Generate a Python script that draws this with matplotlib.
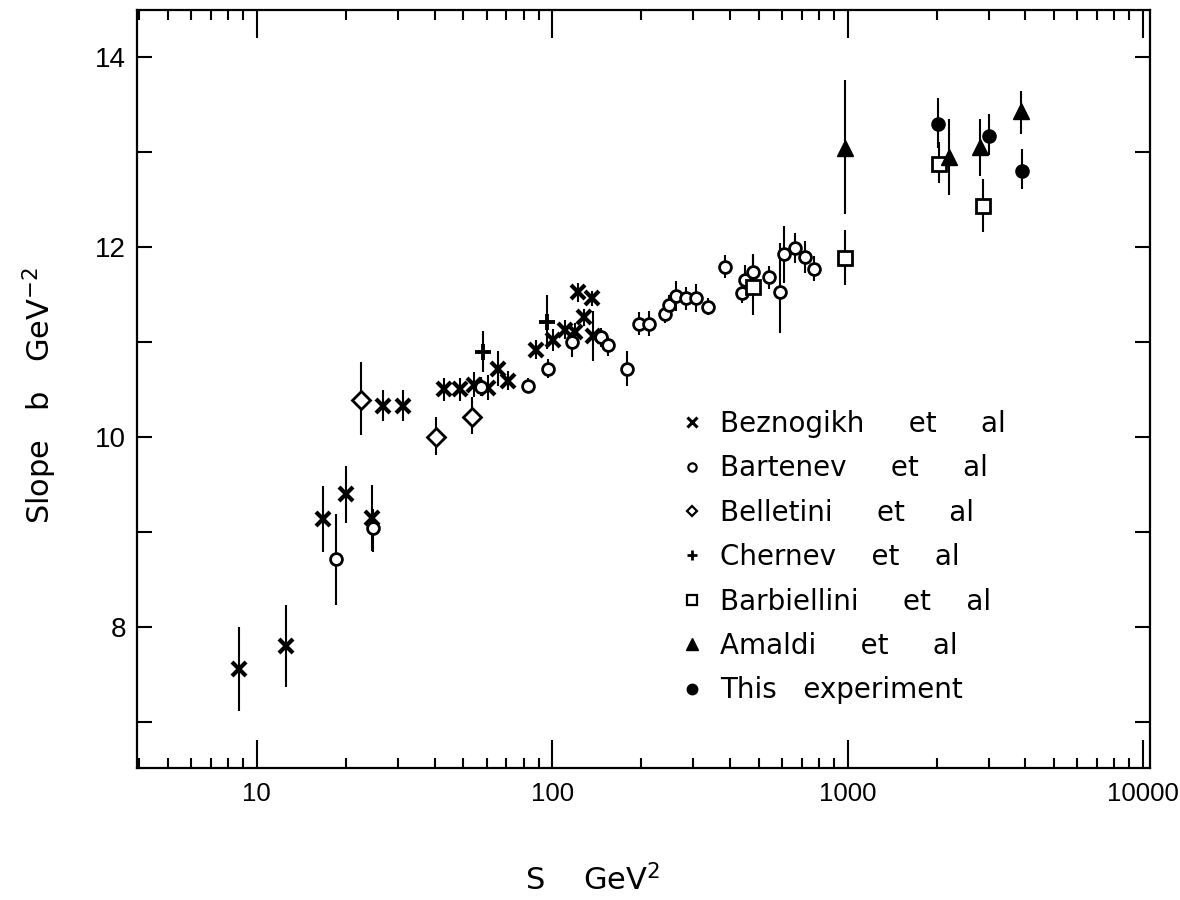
import matplotlib
matplotlib.use("Agg")
import matplotlib.pyplot as plt
from matplotlib.lines import Line2D
from matplotlib.ticker import FixedLocator, FixedFormatter, NullFormatter
import numpy as np

plt.rcParams['font.family'] = ['DejaVu Sans']

# ---------------- data ----------------
bez_s = [8.67, 12.6, 16.7, 20.0, 24.5, 26.7, 31.3, 43.0, 48.7, 54.2, 60.4, 65.7, 71.0,
         88.1, 101, 110.5, 119.6, 122.7, 128.3, 136.2, 137.0]
bez_b = [7.56, 7.80, 9.14, 9.40, 9.15, 10.33, 10.33, 10.50, 10.50, 10.55, 10.52, 10.72, 10.59,
         10.92, 11.02, 11.13, 11.10, 11.52, 11.26, 11.46, 11.06]
bez_e = [0.44, 0.43, 0.35, 0.30, 0.35, 0.16, 0.16, 0.12, 0.12, 0.13, 0.13, 0.18, 0.10,
         0.10, 0.12, 0.10, 0.10, 0.10, 0.09, 0.08, 0.26]

bar_s = [18.6, 24.8, 57.4, 83.0, 96.5, 116.6, 146, 154.9, 179, 196.8, 212.7, 240.9, 248.5,
         261.7, 284.2, 305.9, 337.4, 384.2, 437.4, 448.8, 477.6, 540.9, 592.4, 607.9,
         665.9, 719.5, 767.6]
bar_b = [8.72, 9.04, 10.53, 10.54, 10.72, 11.00, 11.05, 10.97, 10.72, 11.19, 11.19, 11.29,
         11.39, 11.48, 11.46, 11.46, 11.37, 11.79, 11.51, 11.65, 11.73, 11.68, 11.53, 11.92,
         11.99, 11.89, 11.77]
bar_elo = [0.49, 0.25, 0.10, 0.08, 0.10, 0.16, 0.10, 0.12, 0.18, 0.12, 0.13, 0.09, 0.10,
           0.16, 0.12, 0.15, 0.09, 0.12, 0.10, 0.16, 0.18, 0.12, 0.44, 0.30, 0.16, 0.17, 0.13]
bar_ehi = [0.47, 0.20, 0.10, 0.08, 0.10, 0.10, 0.10, 0.08, 0.18, 0.12, 0.13, 0.09, 0.10,
           0.16, 0.12, 0.15, 0.09, 0.12, 0.10, 0.16, 0.18, 0.12, 0.51, 0.30, 0.16, 0.17, 0.13]

bel_s = [22.6, 40.3, 53.6]
bel_b = [10.39, 10.00, 10.21]
bel_elo = [0.37, 0.19, 0.18]
bel_ehi = [0.40, 0.21, 0.21]

che_s = [58.2, 95.7]
che_b = [10.89, 11.21]
che_elo = [0.21, 0.28]
che_ehi = [0.23, 0.28]

bbl_s = [477.6, 982, 2040, 2880]
bbl_b = [11.58, 11.88, 12.87, 12.43]
bbl_elo = [0.30, 0.28, 0.20, 0.27]
bbl_ehi = [0.34, 0.30, 0.23, 0.28]

ama_s = [982, 2206, 2799, 3862]
ama_b = [13.04, 12.94, 13.05, 13.43]
ama_elo = [0.70, 0.39, 0.31, 0.24]
ama_ehi = [0.71, 0.40, 0.29, 0.21]

thi_s = [2030, 3018, 3892]
thi_b = [13.29, 13.17, 12.80]
thi_elo = [0.25, 0.20, 0.19]
thi_ehi = [0.27, 0.23, 0.23]

labels = ["Beznogikh     et     al",
          "Bartenev     et     al",
          "Belletini     et     al",
          "Chernev    et    al",
          "Barbiellini     et    al",
          "Amaldi     et     al",
          "This   experiment"]

x_ticks = [10, 100, 1000, 10000]
x_ticklabels = ["10", "100", "1000", "10000"]
y_ticks = [8, 10, 12, 14]

tick_family = ['Liberation Sans', 'DejaVu Sans']

# ---------------- figure ----------------
fig = plt.figure(figsize=(11.8, 9), dpi=100)
ax = fig.add_axes([137/1180, 1-768/900, (1150-137)/1180, (768-10)/900])
ax.set_xscale('log')
ax.set_xlim(3.93, 10560)
ax.set_ylim(6.52, 14.49)

ebkw = dict(fmt='none', ecolor='black', elinewidth=1.5, capsize=0, zorder=2)

ax.errorbar(bez_s, bez_b, yerr=bez_e, **ebkw)
ax.errorbar(bar_s, bar_b, yerr=[bar_elo, bar_ehi], **ebkw)
ax.errorbar(bel_s, bel_b, yerr=[bel_elo, bel_ehi], **ebkw)
ax.errorbar(che_s, che_b, yerr=[che_elo, che_ehi], **ebkw)
ax.errorbar(bbl_s, bbl_b, yerr=[bbl_elo, bbl_ehi], **ebkw)
ax.errorbar(ama_s, ama_b, yerr=[ama_elo, ama_ehi], **ebkw)
ax.errorbar(thi_s, thi_b, yerr=[thi_elo, thi_ehi], **ebkw)

ax.plot(bez_s, bez_b, ls='none', marker='x', ms=10, mew=3, color='black', zorder=3)
ax.plot(bar_s, bar_b, ls='none', marker='o', ms=8.5, mew=2, mfc='white', mec='black', zorder=3)
ax.plot(bel_s, bel_b, ls='none', marker='D', ms=9.5, mew=2, mfc='white', mec='black', zorder=3)
ax.plot(che_s, che_b, ls='none', marker='+', ms=12, mew=2.8, color='black', zorder=3)
ax.plot(bbl_s, bbl_b, ls='none', marker='s', ms=9.5, mew=2, mfc='white', mec='black', zorder=3)
ax.plot(ama_s, ama_b, ls='none', marker='^', ms=12, color='black', zorder=3)
ax.plot(thi_s, thi_b, ls='none', marker='o', ms=9.5, color='black', zorder=3)

# ---------------- axes styling ----------------
for sp in ax.spines.values():
    sp.set_linewidth(1.6)

ax.xaxis.set_major_locator(FixedLocator(x_ticks))
ax.xaxis.set_major_formatter(FixedFormatter(x_ticklabels))
minor_x = [m * 10.0**d for d in range(0, 4) for m in range(2, 10)]
ax.xaxis.set_minor_locator(FixedLocator(minor_x))
ax.xaxis.set_minor_formatter(NullFormatter())

ax.yaxis.set_major_locator(FixedLocator(y_ticks))
ax.yaxis.set_minor_locator(FixedLocator([7, 9, 11, 13]))

ax.tick_params(axis='x', which='major', direction='in', top=True, bottom=True,
               length=20, width=1.5, labelsize=18.5, pad=10)
ax.tick_params(axis='x', which='minor', direction='in', top=True, bottom=True,
               length=7, width=1.5)
ax.tick_params(axis='y', which='both', direction='in', left=True, right=True,
               length=11, width=1.5, labelsize=20, pad=8)
for lab in ax.get_xticklabels() + ax.get_yticklabels():
    lab.set_fontfamily(tick_family)

fig.text(40/1180, 1-395/900, r"Slope   b   GeV$^{-2}$", rotation=90,
         ha='center', va='center', fontsize=22)
fig.text(593/1180, 1-880/900, r"S    GeV$^{2}$", ha='center', va='center', fontsize=22)

# ---------------- legend ----------------
handles = [
    Line2D([], [], ls='none', marker='x', ms=7, mew=2.2, color='black'),
    Line2D([], [], ls='none', marker='o', ms=6, mew=1.6, mfc='white', mec='black'),
    Line2D([], [], ls='none', marker='D', ms=5.5, mew=1.6, mfc='white', mec='black'),
    Line2D([], [], ls='none', marker='+', ms=7, mew=2.0, color='black'),
    Line2D([], [], ls='none', marker='s', ms=7, mew=1.6, mfc='white', mec='black'),
    Line2D([], [], ls='none', marker='^', ms=9, color='black'),
    Line2D([], [], ls='none', marker='o', ms=7.5, color='black'),
]
leg = ax.legend(handles, labels, loc='upper left',
                bbox_to_anchor=(681/1180, 1-410/900), bbox_transform=fig.transFigure,
                frameon=False, fontsize=20, handlelength=0.8, handletextpad=0.6,
                labelspacing=0.59, borderpad=0, borderaxespad=0)

fig.savefig("out.png", dpi=100, facecolor='white')
